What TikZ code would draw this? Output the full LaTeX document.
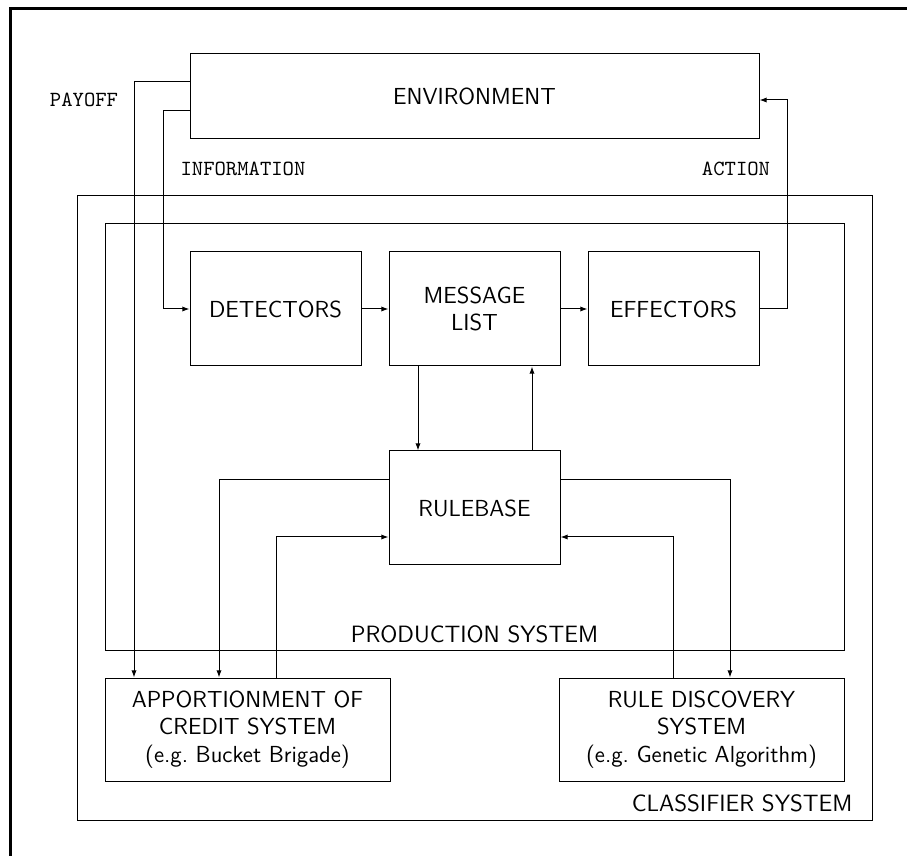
\documentclass[tikz,border=0pt]{standalone}
\usetikzlibrary{arrows.meta}
\begin{document}
\begin{tikzpicture}[x=0.5pt,y=-0.5pt,
  line width=0.5pt,
  box/.style={draw,inner sep=0pt,align=center,
    font=\fontsize{11.6}{13.8}\selectfont\sffamily},
  bigbox/.style={draw,inner sep=0pt},
  lbl/.style={inner sep=0pt,font=\fontsize{10.8}{13}\selectfont\ttfamily},
  sys/.style={inner sep=0pt,font=\fontsize{11.8}{13.8}\selectfont\sffamily},
  arr/.style={-{Latex[length=3.6pt,width=2.6pt]}}]
\useasboundingbox (0,0) rectangle (907,856);

% frame
\draw[line width=1.5pt] (10,856) -- (10,9) -- (907,9);

% enclosing systems
\node[bigbox,minimum width=397.5pt,minimum height=312pt] (cls) at (474.5,508) {};
\node[bigbox,minimum width=369.5pt,minimum height=213pt] (prod) at (474.5,437) {};

% components
\node[box,minimum width=284.5pt,minimum height=42.5pt] (env) at (474.5,96.5) {ENVIRONMENT};
\node[box,minimum width=85.5pt,minimum height=57pt] (det) at (275.5,309) {DETECTORS};
\node[box,minimum width=85.5pt,minimum height=57pt] (msg) at (474.5,309) {MESSAGE\\LIST};
\node[box,minimum width=85.5pt,minimum height=57pt] (eff) at (673.5,309) {EFFECTORS};
\node[box,minimum width=85.5pt,minimum height=57pt] (rule) at (474.5,508) {RULEBASE};
\node[box,minimum width=142.5pt,minimum height=51.5pt] (aoc) at (247.5,729.5)
  {APPORTIONMENT OF\\CREDIT SYSTEM\\(e.g.\ Bucket Brigade)};
\node[box,minimum width=142.5pt,minimum height=51.5pt] (rds) at (701.5,729.5)
  {RULE DISCOVERY\\SYSTEM\\(e.g.\ Genetic Algorithm)};

% labels
\node[lbl] (payoff) at (84,100) {PAYOFF};
\node[lbl] (info) at (243,169) {INFORMATION};
\node[lbl] (action) at (736,169) {ACTION};
\node[sys] (prodlbl) at (474.5,634) {PRODUCTION SYSTEM};
\node[sys,anchor=base east] (clslbl) at (853,812) {CLASSIFIER SYSTEM};

% routing points
\coordinate (payc) at (134,82);
\coordinate (infc) at (163,111);
\coordinate (actc) at (787,100);
\coordinate (dn) at (418,0);
\coordinate (up) at (532,0);
\coordinate (ra) at (219,480);
\coordinate (rb) at (276,537);
\coordinate (rc) at (673,537);
\coordinate (rd) at (730,480);

% connectors
\draw[arr] (env.west |- payc) -| (aoc.north -| payc);
\draw[arr] (env.west |- infc) -| (infc |- det.west) -- (det.west);
\draw[arr] (det) -- (msg);
\draw[arr] (msg) -- (eff);
\draw[arr] (eff.east) -| (actc) -- (env.east |- actc);
\draw[arr] (msg.south -| dn) -- (rule.north -| dn);
\draw[arr] (rule.north -| up) -- (msg.south -| up);
\draw[arr] (rule.west |- ra) -| (aoc.north -| ra);
\draw[arr] (aoc.north -| rb) |- (rule.west |- rb);
\draw[arr] (rule.east |- rd) -| (rds.north -| rd);
\draw[arr] (rds.north -| rc) |- (rule.east |- rc);
\end{tikzpicture}
\end{document}
